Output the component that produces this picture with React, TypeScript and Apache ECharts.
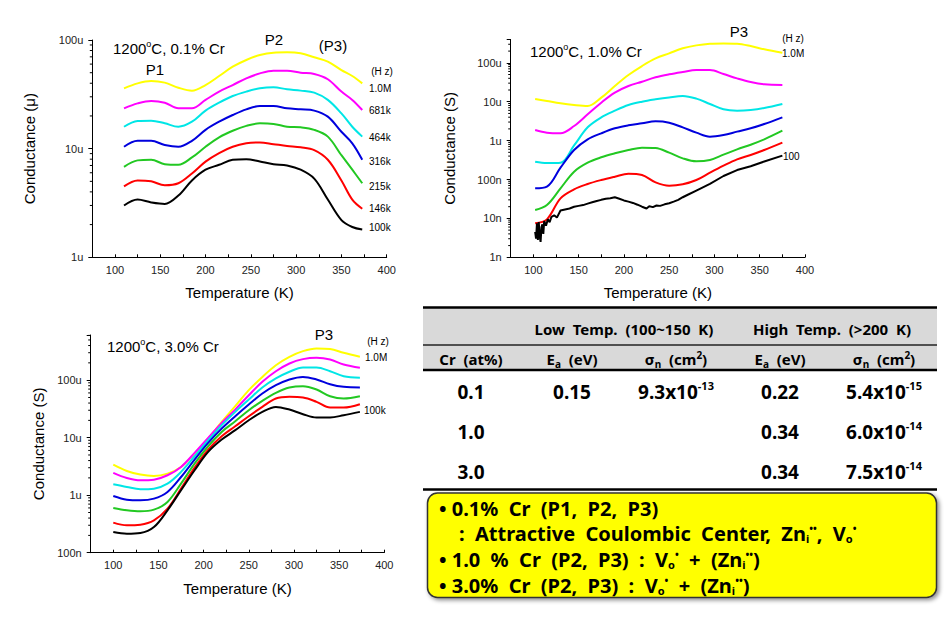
import React, { useEffect, useRef } from 'react';
import * as echarts from 'echarts';

// ---------- colours of the frequency curves (1.0M ... lowest) ----------
const FREQ_COLORS = ['#ffff00', '#ff00ff', '#00e6e6', '#0000dd', '#22c822', '#ff0000', '#000000'];

// ---------- Plot 1 : 1200 C, 0.1 % Cr (values in uS) ----------
const T_P1 = [110, 125, 140, 155, 170, 185, 200, 215, 230, 245, 260, 275, 290, 305, 320, 335, 350, 362, 373];
const P1_1M = [35.9, 39.9, 41.9, 40.5, 36.4, 34.2, 38.5, 46.6, 56.8, 65.5, 72.8, 76.5, 77.0, 75.4, 69.3, 63.2, 52.9, 46.6, 39.9];
const P1_681k = [23.5, 26.1, 27.5, 26.5, 23.5, 23.5, 28.1, 33.5, 38.5, 44.4, 49.3, 52.2, 52.2, 50.0, 48.7, 43.5, 33.5, 28.1, 22.7];
const P1_464k = [15.9, 18.0, 18.1, 17.1, 15.9, 17.7, 22.4, 26.5, 30.5, 33.5, 35.9, 36.7, 35.2, 34.2, 32.8, 28.1, 21.1, 15.9, 12.9];
const P1_316k = [10.4, 11.8, 11.8, 10.8, 10.4, 11.8, 14.9, 17.7, 20.4, 23.0, 24.7, 24.7, 23.5, 23.0, 22.4, 19.7, 14.3, 11.2, 7.9];
const P1_215k = [6.8, 7.8, 7.9, 7.2, 7.1, 8.3, 10.4, 12.7, 14.6, 16.2, 17.1, 16.9, 15.9, 15.7, 14.9, 12.9, 8.7, 6.4, 4.8];
const P1_146k = [4.5, 5.1, 5.0, 4.6, 4.8, 5.9, 7.6, 9.1, 10.4, 11.2, 11.4, 11.0, 10.6, 10.3, 9.7, 7.9, 5.1, 3.4, 2.8];
const P1_100k = [3.0, 3.4, 3.2, 3.1, 3.7, 5.1, 6.4, 7.1, 7.9, 8.0, 7.6, 7.2, 7.0, 6.4, 5.3, 3.4, 2.2, 1.9, 1.8];
const P1_LABELS = ['1.0M', '681k', '464k', '316k', '215k', '146k', '100k'];
const P1_LABEL_Y = [88, 110, 137, 161, 186, 208, 227];

// ---------- Plot 2 : 1200 C, 1.0 % Cr (values in uS) ----------
const T_P2 = [102, 115, 130, 145, 160, 175, 190, 205, 220, 235, 250, 265, 280, 295, 310, 325, 340, 355, 375];
const P2_C1 = [11.7, 10.4, 9.08, 8.22, 7.75, 12.7, 25.3, 48.6, 82.7, 130, 175, 236, 281, 310, 316, 310, 270, 222, 182];
const P2_C2 = [1.87, 1.6, 1.54, 2.37, 4.73, 9.44, 17.1, 25.3, 32.7, 42.4, 50.6, 58.0, 65.3, 65.3, 51.5, 39.9, 32.1, 28.0, 26.9];
const P2_C3 = [0.287, 0.265, 0.27, 0.75, 2.2, 3.96, 5.88, 8.22, 10.0, 11.5, 12.9, 14.0, 12.0, 8.73, 6.37, 5.88, 6.12, 6.89, 8.73];
const P2_C4 = [0.0593, 0.0655, 0.201, 0.573, 1.08, 1.54, 2.07, 2.47, 2.78, 3.13, 2.89, 2.19, 1.6, 1.26, 1.39, 1.7, 2.07, 2.67, 3.96];
const P2_C5 = [0.0164, 0.0221, 0.0593, 0.159, 0.271, 0.372, 0.471, 0.573, 0.658, 0.646, 0.49, 0.35, 0.293, 0.317, 0.435, 0.597, 0.785, 1.08, 1.8];
const P2_C6 = [0.00746, 0.00946, 0.0328, 0.0558, 0.0766, 0.097, 0.118, 0.141, 0.131, 0.0845, 0.0693, 0.0752, 0.097, 0.15, 0.227, 0.33, 0.427, 0.573, 0.885];
const T_P2_BLACK = [102, 103, 104, 105, 106, 107, 108, 109, 110, 111, 112, 114, 116, 118, 120, 123, 126, 130, 135, 140, 145, 150, 155, 160, 165, 170, 175, 180, 185, 190, 195, 200, 205, 210, 215, 220, 225, 228, 232, 236, 240, 245, 250, 255, 260, 265, 270, 280, 295, 310, 325, 340, 355, 375];
const P2_C7 = [0.0045, 0.003, 0.0075, 0.0028, 0.008, 0.0035, 0.0025, 0.006, 0.007, 0.004, 0.0085, 0.0065, 0.0095, 0.008, 0.011, 0.012, 0.0105, 0.016, 0.017, 0.018, 0.02, 0.021, 0.022, 0.024, 0.026, 0.028, 0.03, 0.032, 0.033, 0.035, 0.032, 0.029, 0.027, 0.025, 0.0225, 0.02, 0.018, 0.0205, 0.0195, 0.0215, 0.021, 0.023, 0.0245, 0.027, 0.03, 0.035, 0.04, 0.052, 0.077, 0.123, 0.175, 0.22, 0.29, 0.41];

// ---------- Plot 3 : 1200 C, 3.0 % Cr (values in uS) ----------
const T_P3 = [100, 115, 130, 145, 160, 175, 190, 205, 220, 235, 250, 265, 280, 295, 310, 325, 340, 355, 373];
const P3_1M = [3.4, 2.64, 2.28, 2.16, 2.37, 3.1, 5.28, 9.64, 18.8, 35.3, 67.0, 114, 182, 255, 320, 356, 347, 299, 255];
const P3_C2 = [2.44, 1.99, 1.81, 1.86, 2.22, 3.1, 5.43, 9.91, 18.1, 30.8, 54.8, 93.6, 143, 195, 232, 245, 229, 187, 164];
const P3_C3 = [1.55, 1.39, 1.27, 1.3, 1.59, 2.54, 4.75, 9.02, 16.5, 28.1, 46.0, 74.5, 107, 140, 166, 166, 143, 117, 110];
const P3_C4 = [0.969, 0.836, 0.814, 0.871, 1.14, 2.07, 4.16, 8.11, 14.4, 23.6, 37.7, 58.6, 81.8, 103, 114, 103, 85.2, 76.5, 74.5];
const P3_C5 = [0.598, 0.546, 0.524, 0.56, 0.762, 1.59, 3.54, 7.1, 12.6, 19.3, 30.0, 43.7, 60.2, 74.5, 78.6, 68.8, 52.6, 48.0, 52.6];
const P3_C6 = [0.333, 0.299, 0.307, 0.365, 0.583, 1.3, 3.01, 6.21, 10.6, 15.8, 23.6, 34.3, 48.0, 51.3, 49.9, 42.0, 33.4, 33.4, 38.2];
const P3_100k = [0.229, 0.214, 0.22, 0.279, 0.546, 1.22, 2.71, 5.65, 9.27, 13.5, 20.1, 28.1, 34.3, 30.8, 25.6, 22.4, 22.4, 24.6, 28.1];

// ---------- Table ----------
const TABLE_GROUPS = ['Low  Temp.  (100~150  K)', 'High  Temp.  (>200  K)'];
const TABLE_CR = ['0.1', '1.0', '3.0'];
const TABLE_EA_LOW = ['0.15', '', ''];
const TABLE_SN_LOW = [['9.3x10', '-13'], ['', ''], ['', '']];
const TABLE_EA_HIGH = ['0.22', '0.34', '0.34'];
const TABLE_SN_HIGH = [['5.4x10', '-15'], ['6.0x10', '-14'], ['7.5x10', '-14']];

const PLOT_FONT = '"Liberation Sans", Arial, sans-serif';
const TABLE_FONT = '"Noto Sans", "Open Sans", sans-serif';

function fmtLog(v: number): string {
  const lg = Math.log10(v);
  if (Math.abs(lg - Math.round(lg)) > 1e-6) return '';
  const e = Math.round(lg);
  if (e >= 0) return `${Math.round(Math.pow(10, e))}u`;
  return `${Math.round(Math.pow(10, e + 3))}n`;
}

const GRIDS = [
  { left: 92.3, top: 40, width: 294.4, height: 217.3 },
  { left: 510.7, top: 39.4, width: 294.3, height: 217.9 },
  { left: 90.7, top: 335, width: 293.6, height: 217.7 },
];
const Y_RANGES = [[1, 100], [0.001, 400], [0.1, 610]];
const Y_NAMES = ['Conductance (\u03bc)', 'Conductance (S)', 'Conductance (S)'];
const Y_NAME_GAPS = [55, 54, 45];

function makeXAxis(i: number) {
  return {
    type: 'value', gridIndex: i, min: 75, max: 400, interval: 25,
    axisLine: { show: true, onZero: false, lineStyle: { color: '#000', width: 1 } },
    axisTick: { show: true, inside: true, length: 3, lineStyle: { color: '#000' } },
    axisLabel: {
      formatter: (v: number) => (v % 50 === 0 ? String(v) : ''),
      fontSize: 11, color: '#222', margin: 7, fontFamily: PLOT_FONT,
    },
    splitLine: { show: false },
    name: 'Temperature (K)', nameLocation: 'middle', nameGap: 28,
    nameTextStyle: { fontSize: 15, color: '#000', fontFamily: PLOT_FONT },
  };
}

function makeYAxis(i: number) {
  return {
    type: 'log', logBase: 10, gridIndex: i, min: Y_RANGES[i][0], max: Y_RANGES[i][1],
    axisLine: { show: true, onZero: false, lineStyle: { color: '#000', width: 1 } },
    axisTick: { show: true, inside: false, length: 4, lineStyle: { color: '#000' } },
    axisLabel: { formatter: fmtLog, fontSize: 11, color: '#222', margin: 9, fontFamily: PLOT_FONT },
    splitLine: { show: false },
    name: Y_NAMES[i], nameLocation: 'middle', nameGap: Y_NAME_GAPS[i],
    nameTextStyle: { fontSize: 15, color: '#000', fontFamily: PLOT_FONT },
  };
}

function lineSeries(gi: number, T: number[], vals: number[], color: string, smooth: number | boolean = 0.35) {
  return {
    type: 'line', xAxisIndex: gi, yAxisIndex: gi,
    data: T.map((t, k) => [t, vals[k]]),
    showSymbol: false, symbol: 'none', smooth, silent: true,
    lineStyle: { color, width: 2 },
  };
}

function ptext(x: number, y: number, text: string, fontSize = 15, align = 'left', rich?: any) {
  return {
    type: 'text', x, y, silent: true,
    style: { text, fill: '#000', fontSize, fontFamily: PLOT_FONT, align, verticalAlign: 'middle', rich },
  };
}

const TITLE_RICH = {
  n: { fontSize: 15, fontFamily: PLOT_FONT, fill: '#000', lineHeight: 18 },
  s: { fontSize: 9, fontFamily: PLOT_FONT, fill: '#000', verticalAlign: 'top', lineHeight: 9 },
};

function ttext(x: number, y: number, text: string, fontSize: number, align = 'center', rich?: any) {
  return {
    type: 'text', x, y, silent: true,
    style: { text, fill: '#000', fontSize, fontFamily: TABLE_FONT, fontWeight: 'bold', align, verticalAlign: 'middle', rich },
  };
}

const HEAD_RICH = {
  m: { fontSize: 15, fontFamily: TABLE_FONT, fontWeight: 'bold', fill: '#000', lineHeight: 19 },
  sub: { fontSize: 10, fontFamily: TABLE_FONT, fontWeight: 'bold', fill: '#000', verticalAlign: 'bottom', lineHeight: 10 },
  sup: { fontSize: 10, fontFamily: TABLE_FONT, fontWeight: 'bold', fill: '#000', verticalAlign: 'top', lineHeight: 10 },
};
const DATA_RICH = {
  d: { fontSize: 19, fontFamily: TABLE_FONT, fontWeight: 'bold', fill: '#000', lineHeight: 23 },
  sup: { fontSize: 11, fontFamily: TABLE_FONT, fontWeight: 'bold', fill: '#000', verticalAlign: 'top', lineHeight: 11 },
};
const BOX_RICH = {
  b: { fontSize: 20, fontFamily: TABLE_FONT, fontWeight: 'bold', fill: '#000', lineHeight: 21 },
  sub: { fontSize: 11, fontFamily: TABLE_FONT, fontWeight: 'bold', fill: '#000', verticalAlign: 'bottom', lineHeight: 11 },
  sup: { fontSize: 10, fontFamily: TABLE_FONT, fontWeight: 'bold', fill: '#000', verticalAlign: 'top', lineHeight: 10 },
};

function buildGraphics() {
  const g: any[] = [];
  // Plot 1 annotations
  g.push(ptext(113, 48.5, '{n|1200}{s|o}{n|C, 0.1% Cr}', 15, 'left', TITLE_RICH));
  g.push(ptext(155, 69, 'P1', 15, 'center'));
  g.push(ptext(274, 39, 'P2', 15, 'center'));
  g.push(ptext(333, 45, '(P3)', 15, 'center'));
  g.push(ptext(382, 71, '(H z)', 10, 'center'));
  P1_LABELS.forEach((l, i) => g.push(ptext(369, P1_LABEL_Y[i], l, 10, 'left')));
  // Plot 2 annotations
  g.push(ptext(530, 51, '{n|1200}{s|o}{n|C, 1.0% Cr}', 15, 'left', TITLE_RICH));
  g.push(ptext(739, 31, 'P3', 15, 'center'));
  g.push(ptext(793, 38, '(H z)', 10, 'center'));
  g.push(ptext(782, 53, '1.0M', 10, 'left'));
  g.push(ptext(783, 156.5, '100', 10, 'left'));
  // Plot 3 annotations
  g.push(ptext(107, 346, '{n|1200}{s|o}{n|C, 3.0% Cr}', 15, 'left', TITLE_RICH));
  g.push(ptext(324, 334, 'P3', 15, 'center'));
  g.push(ptext(378, 341, '(H z)', 10, 'center'));
  g.push(ptext(365, 357.5, '1.0M', 10, 'left'));
  g.push(ptext(364, 410.5, '100k', 10, 'left'));

  // Table
  const tx0 = 423, tx1 = 937;
  g.push({ type: 'rect', silent: true, shape: { x: tx0, y: 307, width: tx1 - tx0, height: 63 }, style: { fill: '#d9d9d9' } });
  const hline = (y: number, w: number, c = '#000') => ({ type: 'line', silent: true, shape: { x1: tx0, y1: y, x2: tx1, y2: y }, style: { stroke: c, lineWidth: w } });
  g.push(hline(307.5, 2.5));
  g.push(hline(345, 1.5, '#222'));
  g.push(hline(370, 2.5));
  g.push(hline(489.5, 2.5));
  g.push(ttext(624, 328.5, TABLE_GROUPS[0], 15));
  g.push(ttext(832, 328.5, TABLE_GROUPS[1], 15));
  const colX = [471, 572, 676, 780, 884];
  g.push(ttext(colX[0], 359, 'Cr  (at%)', 15));
  g.push(ttext(colX[1], 359, '{m|E}{sub|a}{m|  (eV)}', 15, 'center', HEAD_RICH));
  g.push(ttext(colX[2], 359, '{m|\u03c3}{sub|n}{m|  (cm}{sup|2}{m|)}', 15, 'center', HEAD_RICH));
  g.push(ttext(colX[3], 359, '{m|E}{sub|a}{m|  (eV)}', 15, 'center', HEAD_RICH));
  g.push(ttext(colX[4], 359, '{m|\u03c3}{sub|n}{m|  (cm}{sup|2}{m|)}', 15, 'center', HEAD_RICH));
  const rowY = [391.5, 431.5, 471.5];
  TABLE_CR.forEach((cr, r) => {
    g.push(ttext(colX[0], rowY[r], cr, 19));
    if (TABLE_EA_LOW[r]) g.push(ttext(colX[1], rowY[r], TABLE_EA_LOW[r], 19));
    if (TABLE_SN_LOW[r][0]) g.push(ttext(colX[2], rowY[r], `{d|${TABLE_SN_LOW[r][0]}}{sup|${TABLE_SN_LOW[r][1]}}`, 19, 'center', DATA_RICH));
    g.push(ttext(colX[3], rowY[r], TABLE_EA_HIGH[r], 19));
    g.push(ttext(colX[4], rowY[r], `{d|${TABLE_SN_HIGH[r][0]}}{sup|${TABLE_SN_HIGH[r][1]}}`, 19, 'center', DATA_RICH));
  });

  // Yellow box
  g.push({
    type: 'rect', silent: true,
    shape: { x: 427.5, y: 493, width: 509, height: 104.5, r: 10 },
    style: { fill: '#ffff00', stroke: '#333', lineWidth: 1.5, shadowBlur: 4, shadowOffsetX: 2, shadowOffsetY: 2, shadowColor: 'rgba(0,0,0,0.45)' },
  });
  g.push(ttext(439, 508.5, '{b|\u2022 0.1%  Cr  (P1,  P2,  P3)}', 20, 'left', BOX_RICH));
  g.push(ttext(459, 533.5, '{b|:  Attractive  Coulombic  Center,  Zn}{sub|i}{sup|\u2022\u2022}{b|,  V}{sub|o}{sup|\u2022}', 20, 'left', BOX_RICH));
  g.push(ttext(439, 559, '{b|\u2022 1.0  %  Cr  (P2,  P3)  :  V}{sub|o}{sup|\u2022}{b|  +  (Zn}{sub|i}{sup|\u2022\u2022}{b|)}', 20, 'left', BOX_RICH));
  g.push(ttext(439, 585, '{b|\u2022 3.0%  Cr  (P2,  P3)  :  V}{sub|o}{sup|\u2022}{b|  +  (Zn}{sub|i}{sup|\u2022\u2022}{b|)}', 20, 'left', BOX_RICH));
  return g;
}

export default function App() {
  const ref = useRef<HTMLDivElement>(null);
  useEffect(() => {
    if (!ref.current) return;
    const chart = echarts.init(ref.current, null, { renderer: 'svg' });
    const p1 = [P1_1M, P1_681k, P1_464k, P1_316k, P1_215k, P1_146k, P1_100k];
    const p2 = [P2_C1, P2_C2, P2_C3, P2_C4, P2_C5, P2_C6];
    const p3 = [P3_1M, P3_C2, P3_C3, P3_C4, P3_C5, P3_C6, P3_100k];
    const series: any[] = [];
    p1.forEach((v, i) => series.push(lineSeries(0, T_P1, v, FREQ_COLORS[i])));
    p2.forEach((v, i) => series.push(lineSeries(1, T_P2, v, FREQ_COLORS[i])));
    series.push(lineSeries(1, T_P2_BLACK, P2_C7, FREQ_COLORS[6], false));
    p3.forEach((v, i) => series.push(lineSeries(2, T_P3, v, FREQ_COLORS[i])));
    chart.setOption({
      animation: false,
      backgroundColor: '#ffffff',
      textStyle: { fontFamily: PLOT_FONT },
      grid: GRIDS.map((g) => ({ ...g, containLabel: false })),
      xAxis: [0, 1, 2].map(makeXAxis),
      yAxis: [0, 1, 2].map(makeYAxis),
      series,
    });
    // minor log ticks (2..9 per decade) placed through the axis scales
    const minor: any[] = [];
    [0, 1, 2].forEach((i) => {
      const [lo, hi] = Y_RANGES[i];
      for (let e = Math.floor(Math.log10(lo)); e <= Math.ceil(Math.log10(hi)); e++) {
        for (let m = 2; m <= 9; m++) {
          const v = m * Math.pow(10, e);
          if (v <= lo || v >= hi) continue;
          const p = chart.convertToPixel({ gridIndex: i }, [75, v]) as number[];
          if (!p) continue;
          minor.push({
            type: 'line', silent: true,
            shape: { x1: p[0] - 2.5, y1: p[1], x2: p[0], y2: p[1] },
            style: { stroke: '#000', lineWidth: 1 },
          });
        }
      }
    });
    chart.setOption({ graphic: [...buildGraphics(), ...minor] });
    return () => chart.dispose();
  }, []);
  return <div ref={ref} style={{ position: 'absolute', left: 0, top: 0, width: 947, height: 619 }} />;
}
